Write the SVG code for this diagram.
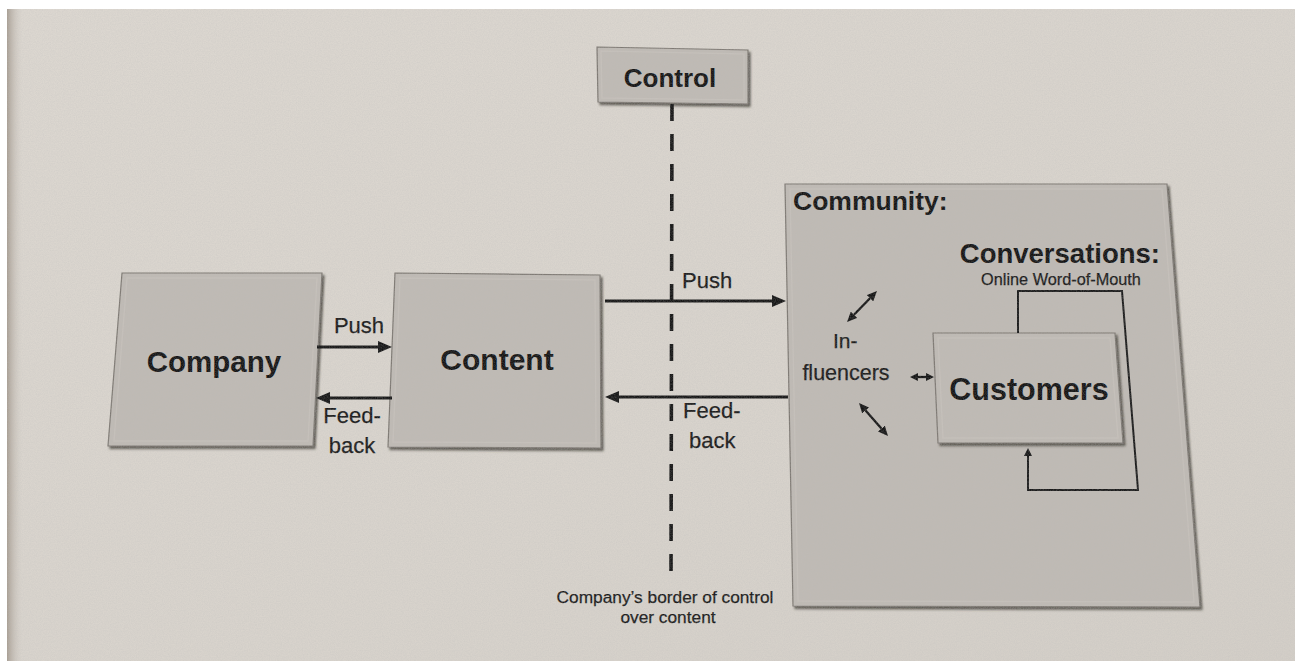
<svg xmlns="http://www.w3.org/2000/svg" width="1295" height="661" viewBox="0 0 1295 661">
  <defs>
    <linearGradient id="page" x1="0" y1="0" x2="1" y2="1">
      <stop offset="0" stop-color="#dcd7d0"/>
      <stop offset="0.6" stop-color="#d8d3cc"/>
      <stop offset="1" stop-color="#d3cec7"/>
    </linearGradient>
    <linearGradient id="edge" x1="0" y1="0" x2="1" y2="0">
      <stop offset="0" stop-color="#a89e93"/>
      <stop offset="1" stop-color="#d6d1ca" stop-opacity="0"/>
    </linearGradient>
    <filter id="shadow" x="-5%" y="-5%" width="110%" height="115%">
      <feDropShadow dx="2" dy="2.5" stdDeviation="1.3" flood-color="#3f3a35" flood-opacity="0.8"/>
    </filter>
    <filter id="noise" x="0" y="0" width="100%" height="100%">
      <feTurbulence type="fractalNoise" baseFrequency="0.85" numOctaves="2" seed="3"/>
      <feColorMatrix type="matrix" values="0 0 0 0 0.5  0 0 0 0 0.5  0 0 0 0 0.5  0 0 0 1.2 -0.35"/>
    </filter>
    <marker id="ah" markerUnits="userSpaceOnUse" markerWidth="14" markerHeight="12" refX="0" refY="6" orient="auto">
      <path d="M0,0 L14,6 L0,12 z" fill="#151515"/>
    </marker>
    <marker id="as" markerUnits="userSpaceOnUse" markerWidth="10" markerHeight="9" refX="0" refY="4.5" orient="auto-start-reverse">
      <path d="M0,0 L10,4.5 L0,9 z" fill="#151515"/>
    </marker>
    <marker id="at" markerUnits="userSpaceOnUse" markerWidth="8" markerHeight="8" refX="0" refY="4" orient="auto-start-reverse">
      <path d="M0,0 L8,4 L0,8 z" fill="#151515"/>
    </marker>
  </defs>
  <style>
    .box { fill: #bfbab4; stroke: #7e7973; stroke-width: 1.2; filter: url(#shadow); }
    .bevel { fill: none; stroke: #cbc6c0; stroke-width: 1.5; opacity: 0.5; }
    .big { font-family: "Liberation Sans", Arial, sans-serif; font-weight: bold; fill: #131313; }
    .lbl { font-family: "Liberation Sans", Arial, sans-serif; fill: #181818; stroke: #181818; stroke-width: 0.25; }
    .arr { fill: none; stroke: #151515; stroke-width: 3; }
    .thin { fill: none; stroke: #151515; stroke-width: 2.3; }
    .loop { fill: none; stroke: #1a1a1a; stroke-width: 2; }
  </style>

  <rect x="0" y="0" width="1295" height="661" fill="#ffffff"/>
  <rect x="7" y="9" width="1288" height="652" fill="url(#page)"/>
  <rect x="7" y="9" width="16" height="652" fill="url(#edge)"/>

  <g id="control">
    <polygon class="box" points="597,47 748,50 748,104 598,102"/>
    <polygon class="bevel" points="601,51 744,54 744,100 602,98"/>
    <text class="big" x="670" y="87" font-size="26" text-anchor="middle">Control</text>
  </g>

  <g id="company">
    <polygon class="box" points="122,273 322,273 313,446 108,446"/>
    <polygon class="bevel" points="127,278 317,278 308,441 114,441"/>
    <text class="big" x="214" y="372" font-size="29.5" text-anchor="middle">Company</text>
  </g>

  <g id="content">
    <polygon class="box" points="395,273 600,275 601,448 388,447"/>
    <polygon class="bevel" points="400,278 595,280 596,443 393,442"/>
    <text class="big" x="497" y="370" font-size="30" text-anchor="middle">Content</text>
  </g>

  <g id="community">
    <polygon class="box" points="785,184 1167,184 1200,607 793,606"/>
    <polygon class="bevel" points="790,189 1162,189 1194,602 798,601"/>
    <text class="big" x="793" y="210" font-size="26.5">Community:</text>
    <text class="big" x="1160" y="263" font-size="27.5" text-anchor="end">Conversations:</text>
    <text class="lbl" x="1061" y="285" font-size="16.3" text-anchor="middle">Online Word-of-Mouth</text>
  </g>

  <g id="influencers">
    <text class="lbl" x="833" y="348" font-size="21">In-</text>
    <text class="lbl" x="846" y="380" font-size="21.5" text-anchor="middle">fluencers</text>
  </g>

  <g id="customers">
    <polygon class="box" points="933,333 1115,333 1123,443 938,443"/>
    <polygon class="bevel" points="938,338 1110,338 1118,438 943,438"/>
    <text class="big" x="1029" y="400" font-size="30.5" text-anchor="middle">Customers</text>
  </g>

  <g id="border">
    <line x1="672" y1="104" x2="671" y2="580" stroke="#151515" stroke-width="3.6" stroke-dasharray="17 13"/>
    <text class="lbl" x="665" y="603" font-size="17.3" text-anchor="middle">Company’s border of control</text>
    <text class="lbl" x="668" y="623" font-size="17.3" text-anchor="middle">over content</text>
  </g>

  <g id="connectors">
    <path class="arr" d="M317,347 H378" marker-end="url(#ah)"/>
    <path class="arr" d="M392,398 H330" marker-end="url(#ah)"/>
    <path class="arr" d="M605,301 H772" marker-end="url(#ah)"/>
    <path class="arr" d="M788,397 H619" marker-end="url(#ah)"/>
    <path class="thin" d="M854,314.8 L870,298.2" marker-start="url(#as)" marker-end="url(#as)"/>
    <path class="thin" d="M865.6,410.5 L881.4,428.5" marker-start="url(#as)" marker-end="url(#as)"/>
    <path class="thin" d="M918,377 H926" marker-start="url(#at)" marker-end="url(#at)"/>
    <path class="loop" d="M1018,333 V291 H1122 L1138,490 H1028 V456" marker-end="url(#at)"/>
  </g>

  <g id="labels">
    <text class="lbl" x="359" y="333" font-size="22" text-anchor="middle">Push</text>
    <text class="lbl" x="352" y="423" font-size="22" text-anchor="middle">Feed-</text>
    <text class="lbl" x="352" y="453" font-size="22" text-anchor="middle">back</text>
    <text class="lbl" x="682" y="288" font-size="22">Push</text>
    <text class="lbl" x="683" y="418" font-size="22">Feed-</text>
    <text class="lbl" x="689" y="448" font-size="22">back</text>
  </g>

  <rect x="7" y="9" width="1288" height="652" filter="url(#noise)" opacity="0.35" pointer-events="none"/>
</svg>
